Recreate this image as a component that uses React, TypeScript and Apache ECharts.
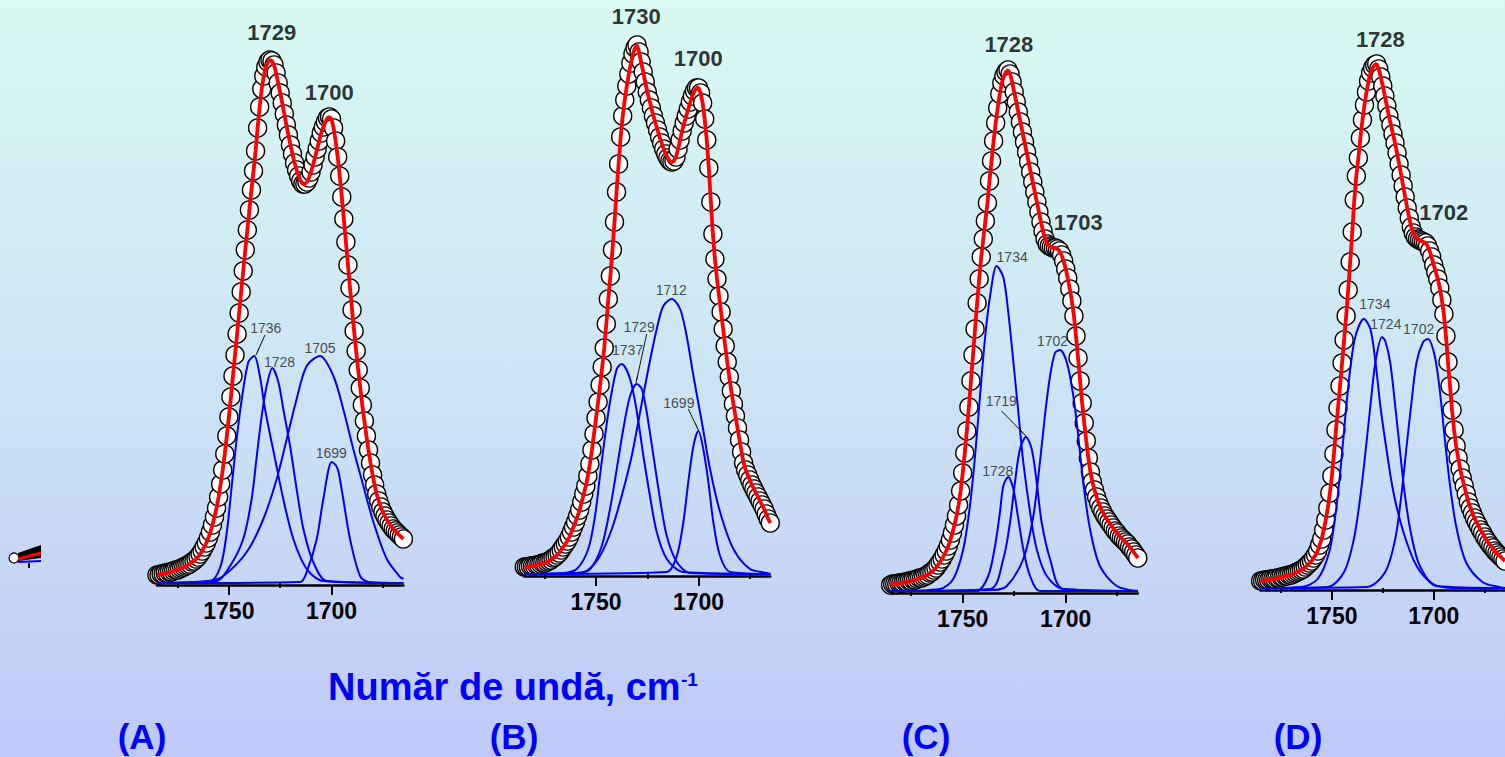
import React, { useEffect, useRef } from "react";
import * as echarts from "echarts";

// ---------- DATA ----------
const WAVENUMBERS = [
  1785, 1784, 1783, 1782, 1781, 1780, 1779, 1778, 1777, 1776,
  1775, 1774, 1773, 1772, 1771, 1770, 1769, 1768, 1767, 1766,
  1765, 1764, 1763, 1762, 1761, 1760, 1759, 1758, 1757, 1756,
  1755, 1754, 1753, 1752, 1751, 1750, 1749, 1748, 1747, 1746,
  1745, 1744, 1743, 1742, 1741, 1740, 1739, 1738, 1737, 1736,
  1735, 1734, 1733, 1732, 1731, 1730, 1729, 1728, 1727, 1726,
  1725, 1724, 1723, 1722, 1721, 1720, 1719, 1718, 1717, 1716,
  1715, 1714, 1713, 1712, 1711, 1710, 1709, 1708, 1707, 1706,
  1705, 1704, 1703, 1702, 1701, 1700, 1699, 1698, 1697, 1696,
  1695, 1694, 1693, 1692, 1691, 1690, 1689, 1688, 1687, 1686,
  1685, 1684, 1683, 1682, 1681, 1680, 1679, 1678, 1677, 1676,
  1675, 1674, 1673, 1672, 1671, 1670, 1669, 1668, 1667, 1666,
  1665,
];

// measured absorbance (arbitrary units x1000)
const A_ABS = [
  8, 8, 9, 9, 10, 10, 11, 11, 12, 13,
  13, 14, 15, 16, 17, 18, 19, 21, 22, 24,
  26, 29, 32, 36, 40, 45, 51, 58, 66, 75,
  86, 99, 113, 129, 147, 166, 186, 207, 228, 249,
  270, 291, 312, 333, 353, 373, 393, 412, 432, 455,
  476, 494, 507, 516, 521, 523, 522, 518, 510, 500,
  490, 480, 469, 458, 448, 438, 429, 420, 413, 407,
  402, 399, 399, 401, 405, 411, 418, 426, 434, 442,
  450, 456, 461, 465, 466, 464, 455, 442, 426, 407,
  386, 364, 341, 318, 295, 273, 252, 232, 213, 195,
  178, 162, 147, 133, 120, 108, 98, 89, 82, 76,
  71, 67, 63, 60, 57, 54, 52, 50, 48, 46,
  44,
];
const B_ABS = [
  7, 7, 7, 8, 8, 8, 9, 9, 10, 11,
  11, 12, 13, 14, 16, 17, 19, 21, 24, 27,
  30, 33, 37, 42, 47, 52, 58, 64, 72, 80,
  88, 98, 110, 124, 140, 156, 172, 189, 207, 226,
  250, 275, 298, 324, 352, 382, 410, 437, 458, 474,
  488, 500, 511, 520, 526, 529, 522, 512, 502, 492,
  482, 474, 466, 458, 451, 444, 437, 431, 425, 420,
  416, 413, 412, 413, 417, 425, 434, 443, 451, 458,
  465, 472, 478, 483, 486, 486, 481, 471, 455, 434,
  406, 372, 340, 315, 295, 278, 262, 245, 228, 212,
  197, 183, 170, 158, 146, 134, 122, 111, 104, 99,
  94, 89, 85, 81, 77, 73, 69, 65, 60, 55,
  51,
];
const C_ABS = [
  6, 7, 7, 7, 8, 8, 8, 9, 9, 10,
  10, 11, 11, 12, 13, 13, 14, 15, 16, 18,
  19, 21, 23, 26, 29, 32, 36, 40, 45, 51,
  58, 66, 75, 86, 100, 118, 138, 160, 184, 210,
  236, 262, 288, 312, 334, 352, 370, 388, 410, 430,
  450, 468, 483, 497, 508, 515, 519, 521, 517, 509,
  499, 489, 479, 469, 459, 449, 439, 429, 419, 409,
  399, 389, 379, 369, 360, 352, 347, 345, 344, 343,
  343, 342, 340, 336, 330, 322, 313, 302, 290, 275,
  255, 233, 210, 188, 168, 150, 133, 119, 109, 101,
  94, 88, 83, 79, 75, 72, 69, 66, 63, 60,
  58, 55, 53, 51, 49, 47, 44, 42, 39, 36,
  33,
];
const D_ABS = [
  7, 7, 8, 8, 8, 9, 9, 9, 10, 10,
  11, 11, 12, 12, 13, 13, 14, 15, 16, 17,
  18, 19, 21, 23, 25, 27, 30, 33, 37, 43,
  49, 58, 68, 80, 95, 112, 134, 158, 180, 202,
  225, 248, 272, 298, 326, 356, 388, 412, 430, 450,
  468, 483, 496, 507, 515, 520, 523, 524, 519, 511,
  502, 492, 482, 472, 463, 454, 445, 435, 424, 413,
  402, 391, 380, 370, 361, 355, 351, 349, 348, 347,
  346, 345, 342, 337, 331, 323, 316, 309, 300, 288,
  274, 252, 226, 202, 178, 158, 142, 130, 119, 110,
  102, 94, 86, 80, 75, 70, 66, 62, 58, 55,
  51, 48, 45, 42, 40, 37, 35, 33, 31, 29,
  27,
];

// deconvoluted bands: [wavenumber, absorbance]
const A_BAND_1736 = [[1785, 0], [1759, 2], [1754, 17], [1751, 51], [1748.6, 97], [1746.2, 144], [1743.7, 184], [1740.5, 221], [1737.6, 227], [1735, 208], [1732.4, 174], [1727.5, 124], [1723.5, 84], [1718.6, 44], [1712.1, 14], [1704, 2], [1665, 0]];
const A_BAND_1728 = [[1785, 0], [1756, 2], [1749.4, 17], [1743, 44], [1738.9, 84], [1736.4, 127], [1734, 167], [1731.6, 197], [1728.8, 215], [1725.9, 201], [1723.5, 174], [1720.2, 137], [1717, 94], [1713.7, 54], [1708.9, 21], [1702.3, 2], [1665, 0]];
const A_BAND_1705 = [[1785, 0], [1760, 2], [1752.7, 7], [1741.3, 31], [1733.2, 64], [1726.7, 104], [1721.8, 144], [1717, 184], [1712.1, 217], [1705.6, 227], [1699.1, 207], [1694.3, 174], [1689.4, 134], [1684.5, 97], [1679.6, 61], [1673.1, 24], [1666.6, 6], [1665, 4]];
const A_BAND_1699 = [[1785, 0], [1715.3, 1], [1712.1, 11], [1707.2, 44], [1704, 84], [1699.9, 121], [1698, 118], [1696.7, 112], [1694.3, 84], [1691, 44], [1686.1, 7], [1682, 1], [1665, 0]];

const B_BAND_1737 = [[1785, 0], [1766, 1], [1759.4, 5], [1753.8, 25], [1750.5, 58], [1748.1, 98], [1745.6, 138], [1743.2, 172], [1739.9, 205], [1737.5, 210], [1733.4, 195], [1730.1, 162], [1726.9, 118], [1723.7, 78], [1720.4, 42], [1715.5, 15], [1707.4, 2], [1665, 0]];
const B_BAND_1729 = [[1785, 0], [1759.4, 1], [1752.9, 5], [1747.2, 28], [1743.2, 65], [1739.9, 105], [1736.7, 145], [1733.4, 178], [1730.1, 190], [1727.7, 185], [1725.3, 162], [1722, 118], [1718.8, 75], [1715.5, 38], [1710.6, 12], [1704.1, 1], [1665, 0]];
const B_BAND_1712 = [[1785, 0], [1760, 1], [1754.5, 3], [1748.1, 18], [1742.3, 45], [1737.5, 78], [1732.6, 118], [1728.5, 162], [1724.5, 205], [1720.4, 245], [1717.2, 268], [1713.1, 275], [1709, 265], [1705.8, 238], [1702.5, 198], [1698.4, 152], [1694.4, 105], [1689.5, 62], [1683, 25], [1674.9, 5], [1666.7, 1], [1665, 0]];
const B_BAND_1699 = [[1785, 0], [1715.5, 2], [1710.6, 18], [1707.4, 52], [1705, 92], [1702.5, 128], [1700.1, 143], [1697.7, 125], [1695.2, 92], [1692.8, 52], [1689.5, 18], [1684.6, 2], [1665, 0]];

const C_BAND_1734 = [[1785, 0], [1761, 2], [1754.6, 12], [1749.7, 42], [1746.5, 85], [1744, 135], [1741.6, 195], [1739.2, 252], [1736.7, 295], [1733.5, 325], [1730.3, 314], [1727.9, 279], [1725.4, 229], [1723, 179], [1720.6, 129], [1717.3, 79], [1714.1, 42], [1709.2, 15], [1701.2, 2], [1665, 0]];
const C_BAND_1728 = [[1785, 0], [1743.2, 0], [1737.6, 15], [1734.3, 45], [1731.9, 79], [1730.3, 105], [1727.9, 114], [1725.4, 102], [1723, 72], [1720.6, 42], [1717.3, 15], [1712.5, 0], [1665, 0]];
const C_BAND_1719 = [[1785, 0], [1736.7, 2], [1730.3, 32], [1727, 69], [1724.6, 109], [1722.2, 142], [1719.3, 154], [1716.5, 142], [1714.1, 109], [1711.7, 69], [1707.6, 32], [1701.2, 2], [1665, 0]];
const C_BAND_1702 = [[1785, 0], [1735, 1], [1728.6, 5], [1720.6, 32], [1715.7, 75], [1712.5, 129], [1710.1, 175], [1707.6, 215], [1705.2, 238], [1702.8, 241], [1699.5, 229], [1696.3, 195], [1693.9, 155], [1691.5, 109], [1688.2, 62], [1683.4, 25], [1675.2, 5], [1665, 0]];

const D_BAND_1734 = [[1785, 0], [1765, 1], [1757, 9], [1751.3, 36], [1748.1, 76], [1745.6, 122], [1743.2, 176], [1740.8, 222], [1738.4, 252], [1734.3, 269], [1731.1, 259], [1728.6, 226], [1726.2, 182], [1723, 136], [1719.8, 96], [1714.9, 56], [1708.4, 22], [1700.3, 4], [1690, 0], [1665, 0]];
const D_BAND_1724 = [[1785, 0], [1752.1, 1], [1744, 16], [1739.2, 49], [1736, 92], [1733.5, 136], [1731.1, 182], [1728.6, 226], [1725.4, 251], [1723.8, 247], [1721.4, 226], [1718.9, 182], [1716.5, 136], [1714.1, 92], [1710.9, 52], [1706.8, 22], [1698.7, 2], [1665, 0]];
const D_BAND_1702 = [[1785, 0], [1732.7, 1], [1723.8, 16], [1718.9, 49], [1715.7, 96], [1713.3, 142], [1710.9, 186], [1708.4, 226], [1705.2, 246], [1702.8, 249], [1699.5, 232], [1697.1, 199], [1694.7, 152], [1692.2, 106], [1689, 62], [1684.2, 26], [1676.1, 6], [1668, 1], [1665, 0]];

// annotations: [wavenumber, absorbance, text]
const A_PEAK_LABELS = [[1729.1, 551, "1729"], [1701.1, 491, "1700"]];
const B_PEAK_LABELS = [[1730.4, 558, "1730"], [1700.2, 516, "1700"]];
const C_PEAK_LABELS = [[1727.6, 547, "1728"], [1693.9, 369, "1703"]];
const D_PEAK_LABELS = [[1726.2, 549, "1728"], [1695.1, 376, "1702"]];

const A_BAND_LABELS = [[1732, 255, "1736"], [1725.3, 221, "1728"], [1705.6, 235, "1705"], [1700.1, 130, "1699"]];
const B_BAND_LABELS = [[1713.3, 284, "1712"], [1729, 247, "1729"], [1734.6, 224, "1737"], [1709.6, 171, "1699"]];
const C_BAND_LABELS = [[1726, 334, "1734"], [1706.4, 250, "1702"], [1731.3, 190, "1719"], [1733, 120, "1728"]];
const D_BAND_LABELS = [[1728.9, 284, "1734"], [1723.5, 264, "1724"], [1707.4, 259, "1702"]];

const A_ARROWS = [[[1732.4, 248], [1736.8, 228]]];
const B_ARROWS = [[[1725.3, 240], [1730.5, 191]], [[1705, 165], [1700.1, 144]]];
const C_ARROWS = [[[1731.1, 180], [1719.3, 155]]];
const D_ARROWS: number[][][] = [];

const MAJOR_TICKS = [1750, 1700];
const MINOR_TICKS = [1775, 1725, 1675];
const PANEL_LETTERS = ["(A)", "(B)", "(C)", "(D)"];
const X_TITLE = "Număr de undă, cm";
const X_TITLE_SUP = "-1";

// ---------- LAYOUT ----------
const FONT = 'Arial, "Liberation Sans", Helvetica, sans-serif';
const SPAN = 560;
const LIFT = 2;
const PANELS = [
  { abs: A_ABS, bands: [A_BAND_1736, A_BAND_1728, A_BAND_1705, A_BAND_1699], peaks: A_PEAK_LABELS, bandLabels: A_BAND_LABELS, arrows: A_ARROWS, left: 157, width: 246.4, base: 585, letterX: 142 },
  { abs: B_ABS, bands: [B_BAND_1737, B_BAND_1729, B_BAND_1712, B_BAND_1699], peaks: B_PEAK_LABELS, bandLabels: B_BAND_LABELS, arrows: B_ARROWS, left: 524.3, width: 246, base: 576, letterX: 514 },
  { abs: C_ABS, bands: [C_BAND_1734, C_BAND_1728, C_BAND_1719, C_BAND_1702], peaks: C_PEAK_LABELS, bandLabels: C_BAND_LABELS, arrows: C_ARROWS, left: 890.6, width: 247.2, base: 593, letterX: 926 },
  { abs: D_ABS, bands: [D_BAND_1734, D_BAND_1724, D_BAND_1702], peaks: D_PEAK_LABELS, bandLabels: D_BAND_LABELS, arrows: D_ARROWS, left: 1260.6, width: 247.2, base: 590, letterX: 1298 },
];

function buildOption() {
  const grid: any[] = [];
  const xAxis: any[] = [];
  const yAxis: any[] = [];
  const series: any[] = [];

  PANELS.forEach((p, i) => {
    grid.push({ left: p.left, top: p.base - SPAN, width: p.width, height: SPAN });
    xAxis.push({
      gridIndex: i, type: "value", min: 1665, max: 1785, inverse: true, position: "bottom",
      axisLine: { show: true, onZero: false, lineStyle: { color: "#000", width: 2.5 } },
      axisTick: { show: true, customValues: MAJOR_TICKS, length: 10, lineStyle: { color: "#000", width: 2 } },
      axisLabel: {
        show: true, customValues: MAJOR_TICKS, margin: 14, fontSize: 23, fontWeight: "bold", color: "#000", fontFamily: FONT,
        formatter: (v: number) => String(v),
      },
      splitLine: { show: false },
    });
    xAxis.push({
      gridIndex: i, type: "value", min: 1665, max: 1785, inverse: true, position: "bottom",
      axisLine: { show: false },
      axisTick: { show: true, customValues: MINOR_TICKS, length: 5, lineStyle: { color: "#000", width: 2 } },
      axisLabel: { show: false },
      splitLine: { show: false },
    });
    yAxis.push({ gridIndex: i, type: "value", min: -LIFT, max: SPAN - LIFT, show: false });

    const pts = WAVENUMBERS.map((w, k) => [w, p.abs[k]]);
    const xi = i * 2;
    series.push({
      type: "scatter", xAxisIndex: xi, yAxisIndex: i, data: pts, symbol: "circle", symbolSize: 18,
      itemStyle: { color: "#ffffff", borderColor: "#000", borderWidth: 1.4, opacity: 1 },
      z: 2, silent: true,
    });
    p.bands.forEach((b) => {
      series.push({
        type: "line", xAxisIndex: xi, yAxisIndex: i, data: b, showSymbol: false, smooth: 0.3,
        lineStyle: { color: "#0000ff", width: 2 }, z: 3, silent: true,
      });
    });
    series.push({
      type: "line", xAxisIndex: xi, yAxisIndex: i, data: pts, showSymbol: false,
      lineStyle: { color: "#ff0000", width: 3.8 }, z: 4, silent: true,
    });
    series.push({
      type: "scatter", xAxisIndex: xi, yAxisIndex: i, data: p.bandLabels, symbolSize: 1, clip: false,
      itemStyle: { color: "rgba(0,0,0,0)" }, z: 10, silent: true,
      label: { show: true, position: "inside", formatter: (d: any) => d.data[2], fontSize: 14, color: "#222", fontFamily: FONT },
      markLine: {
        silent: true, symbol: ["none", "arrow"], symbolSize: [1, 8],
        lineStyle: { color: "#111", width: 1, type: "solid" }, label: { show: false },
        data: p.arrows.map((a) => [{ coord: a[0] }, { coord: a[1] }]),
      },
    });
    series.push({
      type: "scatter", xAxisIndex: xi, yAxisIndex: i, data: p.peaks, symbolSize: 1, clip: false,
      itemStyle: { color: "rgba(0,0,0,0)" }, z: 10, silent: true,
      label: { show: true, position: "inside", formatter: (d: any) => d.data[2], fontSize: 22, fontWeight: "bold", color: "#000", fontFamily: FONT },
    });
  });

  const graphic: any[] = [
    { type: "text", x: 328, y: 687, style: { text: X_TITLE, fontSize: 38, fontWeight: "bold", fontFamily: FONT, fill: "#0000ff", align: "left", verticalAlign: "middle" } },
    { type: "text", x: 681, y: 679, style: { text: X_TITLE_SUP, fontSize: 19, fontWeight: "bold", fontFamily: FONT, fill: "#0000ff", align: "left", verticalAlign: "middle" } },
    ...PANELS.map((p, i) => ({
      type: "text", x: p.letterX, y: 736,
      style: { text: PANEL_LETTERS[i], fontSize: 35, fontWeight: "bold", fontFamily: FONT, fill: "#0000ff", align: "center", verticalAlign: "middle" },
    })),
    // cropped fragment at the far left
    { type: "polygon", shape: { points: [[18, 553], [41, 545], [41, 558], [18, 561]] }, style: { fill: "#000" } },
    { type: "circle", shape: { cx: 14, cy: 558, r: 5 }, style: { fill: "#fff", stroke: "#000", lineWidth: 1.2 } },
    { type: "line", shape: { x1: 18, y1: 559, x2: 41, y2: 553 }, style: { stroke: "#ff0000", lineWidth: 3 } },
    { type: "line", shape: { x1: 18, y1: 562, x2: 41, y2: 561 }, style: { stroke: "#0000ff", lineWidth: 2 } },
    { type: "line", shape: { x1: 29, y1: 563, x2: 29, y2: 568 }, style: { stroke: "#000", lineWidth: 2 } },
  ];

  return {
    animation: false,
    backgroundColor: {
      type: "linear", x: 0, y: 0, x2: 0, y2: 1,
      colorStops: [
        { offset: 0, color: "#d9f9f3" },
        { offset: 0.5, color: "#cde4f5" },
        { offset: 1, color: "#bfc9f8" },
      ],
    },
    grid, xAxis, yAxis, series, graphic,
  };
}

export default function App() {
  const ref = useRef<HTMLDivElement>(null);
  useEffect(() => {
    document.body.style.margin = "0";
    if (!ref.current) return;
    const chart = echarts.init(ref.current, undefined, { renderer: "svg" });
    chart.setOption(buildOption() as any);
    return () => chart.dispose();
  }, []);
  return <div ref={ref} style={{ width: 1505, height: 757 }} />;
}
